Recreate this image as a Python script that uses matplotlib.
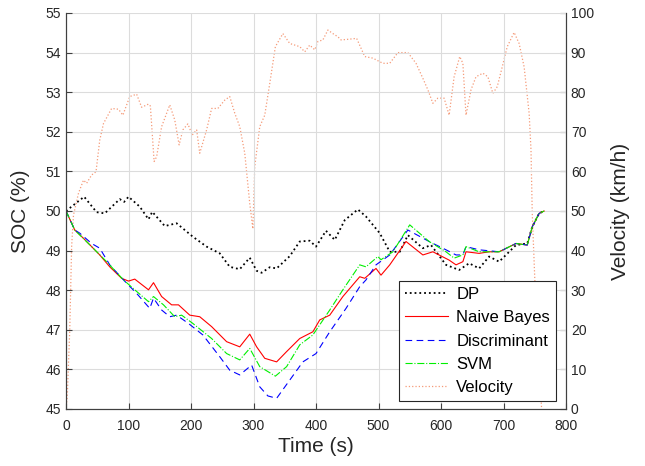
import numpy as np
import matplotlib.pyplot as plt
from matplotlib.lines import Line2D

plt.rcParams['font.family'] = ['Liberation Sans', 'DejaVu Sans']

# DP
t_dp = [0, 29, 49, 62, 86, 93, 100, 118, 132, 138, 158, 177, 203, 225, 246, 262, 278, 294, 305, 313,
        326, 337, 358, 374, 390, 400, 416, 430, 446, 467, 480, 502, 518, 534, 547, 571, 584, 608, 629,
        645, 661, 677, 693, 720, 738, 746, 757, 765]
soc_dp = [50.0, 50.36, 49.97, 49.94, 50.30, 50.23, 50.36, 50.11, 49.79, 49.98, 49.62, 49.69, 49.35,
          49.10, 48.93, 48.59, 48.53, 48.82, 48.49, 48.44, 48.58, 48.55, 48.86, 49.23, 49.25, 49.10,
          49.50, 49.27, 49.77, 50.04, 49.86, 49.44, 48.97, 48.97, 49.39, 49.06, 49.14, 48.64, 48.51,
          48.68, 48.55, 48.85, 48.72, 49.14, 49.18, 49.60, 49.94, 50.0]

# Naive Bayes
t_nb = [0, 14, 28, 41, 54, 70, 89, 100, 110, 132, 140, 153, 169, 180, 198, 214, 233, 257, 278, 294,
        305, 318, 337, 353, 374, 395, 406, 422, 443, 470, 478, 496, 504, 518, 544, 571, 587, 613, 624,
        635, 640, 661, 677, 693, 720, 738, 746, 757, 765]
soc_nb = [50.0, 49.52, 49.31, 49.10, 48.89, 48.59, 48.30, 48.23, 48.28, 48.01, 48.19, 47.84, 47.63,
          47.63, 47.37, 47.33, 47.08, 46.70, 46.57, 46.89, 46.57, 46.28, 46.19, 46.45, 46.78, 46.95,
          47.25, 47.37, 47.84, 48.34, 48.30, 48.55, 48.38, 48.64, 49.23, 48.89, 48.97, 48.76, 48.64,
          48.72, 48.97, 48.93, 48.97, 48.97, 49.18, 49.14, 49.60, 49.94, 50.0]

# Discriminant
t_da = [0, 14, 22, 41, 54, 70, 92, 113, 134, 140, 153, 166, 177, 196, 219, 246, 262, 278, 297, 310,
        323, 337, 358, 379, 400, 422, 448, 470, 480, 496, 518, 547, 581, 608, 624, 635, 640, 661, 693,
        720, 738, 746, 757, 765]
soc_da = [50.0, 49.52, 49.44, 49.18, 49.06, 48.64, 48.26, 47.92, 47.54, 47.80, 47.50, 47.33, 47.37,
          47.16, 46.87, 46.32, 45.98, 45.86, 46.11, 45.56, 45.33, 45.27, 45.73, 46.19, 46.40, 46.95,
          47.54, 48.09, 48.26, 48.64, 48.89, 49.52, 49.23, 49.02, 48.89, 48.89, 49.10, 49.02, 48.97,
          49.18, 49.14, 49.60, 49.94, 50.0]

# SVM
t_svm = [0, 14, 41, 65, 92, 110, 132, 140, 156, 174, 185, 203, 233, 257, 278, 294, 310, 335, 353, 374,
         395, 422, 443, 470, 480, 499, 504, 523, 550, 581, 608, 621, 635, 640, 661, 693, 720, 738, 746,
         757, 765]
soc_svm = [50.0, 49.52, 49.10, 48.72, 48.26, 48.01, 47.71, 47.84, 47.63, 47.33, 47.37, 47.16, 46.78,
           46.40, 46.24, 46.53, 46.07, 45.83, 46.07, 46.62, 46.87, 47.50, 48.01, 48.64, 48.59, 48.85,
           48.77, 48.97, 49.65, 49.23, 48.97, 48.81, 48.89, 49.10, 48.97, 48.97, 49.18, 49.14, 49.60,
           49.94, 50.0]

# Velocity
t_v = [0, 2, 6, 9, 12, 20, 28, 33, 41, 48, 54, 60, 73, 84, 91, 102, 113, 121, 132, 135, 141, 145,
       153, 166, 174, 181, 187, 195, 202, 209, 214, 225, 233, 243, 254, 262, 270, 278, 286, 294, 299,
       302, 310, 318, 326, 335, 347, 358, 374, 382, 390, 398, 403, 411, 419, 427, 435, 440, 454, 465,
       478, 491, 507, 518, 531, 547, 560, 571, 579, 587, 595, 605, 613, 621, 630, 635, 640, 648, 656,
       667, 675, 683, 690, 698, 706, 717, 725, 733, 741, 744, 746, 752, 761]
vel = [0, 3, 20, 41, 49, 54.5, 57.8, 57, 59.1, 59.9, 67.9, 72.1, 75.9, 75.7, 74.2, 78.9, 79.5, 76.2,
       77.0, 76.5, 62.5, 63.7, 71.3, 76.8, 73.0, 66.7, 70.5, 72.0, 69.2, 70.5, 64.6, 70.5, 75.9, 75.9,
       78.0, 78.9, 74.7, 71.3, 64.6, 51.9, 45.5, 61.2, 71.3, 74.2, 82.2, 91.5, 94.8, 92.3, 91.5, 90.2,
       91.9, 90.7, 92.8, 93.2, 95.7, 94.8, 94.0, 93.2, 93.4, 93.6, 89.0, 88.6, 87.3, 87.3, 90.0, 90.0,
       87.3, 83.5, 80.6, 77.2, 78.5, 78.5, 74.2, 83.9, 89.0, 87.3, 74.2, 80.6, 83.9, 84.8, 83.9, 79.7,
       81.4, 86.4, 91.5, 95.1, 92.3, 86.4, 74.7, 65.4, 49.4, 25, 0]

axc = '#404040'
vcol = '#F59A78'
green = '#00F000'
dash = (0, (6, 4))

fig = plt.figure(figsize=(6.45, 4.66), dpi=100)
ax = fig.add_axes([66/645, 57/466, 500/645, 396/466])
ax2 = ax.twinx()
ax.set_zorder(ax2.get_zorder() + 1)
ax.patch.set_visible(False)

ax2.plot(t_v, vel, color=vcol, ls=':', lw=0.9)
ax.plot(t_dp, soc_dp, color='black', ls=':', lw=1.3)
ax.plot(t_nb, soc_nb, color='red', ls='-', lw=0.8)
ax.plot(t_da, soc_da, color='blue', ls=dash, lw=0.8)
ax.plot(t_svm, soc_svm, color=green, ls='-.', lw=0.8)

ax.set_xlim(0, 800)
ax.set_ylim(45, 55)
ax2.set_ylim(0, 100)
ax.set_xticks(np.arange(0, 801, 100))
ax.set_yticks(np.arange(45, 56, 1))
ax2.set_yticks(np.arange(0, 101, 10))
ax.grid(True, color='#dcdcdc', lw=0.8)

for a in (ax, ax2):
    a.tick_params(direction='in', length=4, colors=axc, labelsize=10, labelcolor='#262626')
    a.spines['top'].set_visible(False)
    for s in ('left', 'right', 'bottom'):
        a.spines[s].set_color(axc)
ax.tick_params(axis='x', pad=7)

ax.set_xlabel('Time (s)', fontsize=15, color='#262626', labelpad=3)
ax.set_ylabel('SOC (%)', fontsize=15, color='#262626', labelpad=11)
ax2.set_ylabel('Velocity (km/h)', fontsize=15, color='#262626', labelpad=12)

handles = [
    Line2D([], [], color='black', ls=':', lw=1.3),
    Line2D([], [], color='red', ls='-', lw=0.8),
    Line2D([], [], color='blue', ls=dash, lw=0.8),
    Line2D([], [], color=green, ls='-.', lw=0.8),
    Line2D([], [], color=vcol, ls=':', lw=0.9),
]
labels = ['DP', 'Naive Bayes', 'Discriminant', 'SVM', 'Velocity']
leg = ax.legend(handles, labels, loc='lower right', bbox_to_anchor=(0.98, 0.02), fontsize=12,
                fancybox=False, edgecolor='#262626', framealpha=1, handlelength=2.6,
                borderpad=0.35, labelspacing=0.5, handletextpad=0.5, borderaxespad=0)
leg.get_frame().set_linewidth(0.8)

fig.savefig('out.png', dpi=100)
